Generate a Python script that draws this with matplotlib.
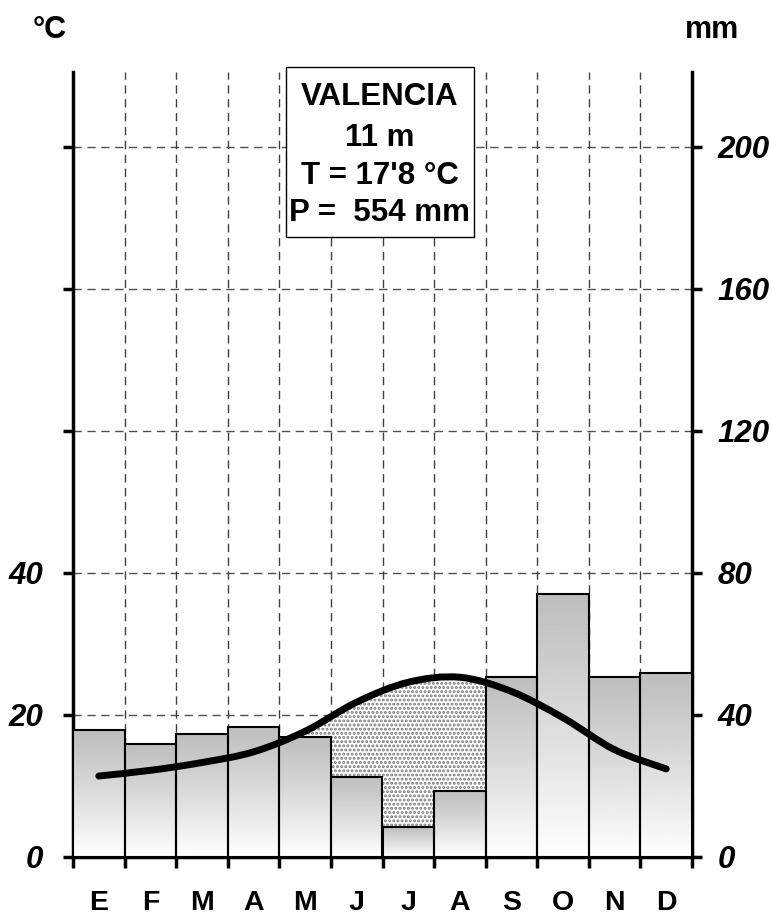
import numpy as np
import matplotlib
matplotlib.use('Agg')
import matplotlib.pyplot as plt
from matplotlib.path import Path
from matplotlib.patches import PathPatch, Rectangle

plt.rcParams['font.family'] = ['Liberation Sans', 'DejaVu Sans']
plt.rcParams['hatch.linewidth'] = 1.4

# Climograph data for Valencia
months = ['E', 'F', 'M', 'A', 'M', 'J', 'J', 'A', 'S', 'O', 'N', 'D']
precip_mm = [35.8, 31.7, 34.6, 36.7, 33.8, 22.6, 8.5, 18.7, 50.8, 74.0, 50.8, 51.7]
temp_c = [11.4, 12.2, 13.3, 14.8, 17.7, 21.8, 24.6, 25.3, 23.3, 19.6, 15.1, 12.4]

mm_ticks = [0, 40, 80, 120, 160, 200]
temp_labels = ['0', '20', '40', '', '', '']
info_lines = ['VALENCIA', '11 m', "T = 17'8 °C", 'P =  554 mm']

Y_TOP = 221


def smooth_path(xs, ys):
    # catmull-rom style bezier through the monthly points
    pts = np.column_stack([xs, ys])
    verts = [pts[0]]
    codes = [Path.MOVETO]
    n = len(pts)
    for i in range(n - 1):
        p0 = pts[max(i - 1, 0)]
        p1 = pts[i]
        p2 = pts[i + 1]
        p3 = pts[min(i + 2, n - 1)]
        c1 = p1 + (p2 - p0) / 6.0
        c2 = p2 - (p3 - p1) / 6.0
        verts += [c1, c2, p2]
        codes += [Path.CURVE4] * 3
    return verts, codes


fig = plt.figure(figsize=(7.72, 9.15), dpi=100)
ax = fig.add_axes([73 / 772, 58 / 915, 619 / 772, 785 / 915])

x_left = np.arange(len(months))
x_mid = x_left + 0.5
temp_mm = 2 * np.array(temp_c)

# grid
for v in mm_ticks[1:]:
    ax.axhline(v, color='#505050', lw=1, ls=(0, (6, 4)), zorder=1)
for v in range(1, len(months)):
    ax.axvline(v, color='#404040', lw=1, ls=(0, (6, 4)), zorder=1)

# stippled area under temperature curve (bars cover the rest)
verts, codes = smooth_path(x_mid, temp_mm)
line_path = Path(verts, codes)
fill_verts = verts + [(x_mid[-1], 0), (x_mid[0], 0), (x_mid[0], 0)]
fill_codes = codes + [Path.LINETO, Path.LINETO, Path.CLOSEPOLY]
ax.add_patch(PathPatch(Path(fill_verts, fill_codes), facecolor='white',
                       edgecolor='#7a7a7a', lw=0, hatch='....', zorder=2))

# precipitation bars with vertical gradient
grad = np.linspace(0, 1, 200) ** 1.1
grad = (0.745 + 0.255 * grad).reshape(-1, 1)
for i, p in enumerate(precip_mm):
    ax.imshow(grad, extent=(x_left[i], x_left[i] + 1, 0, p), cmap='gray',
              vmin=0, vmax=1, aspect='auto', interpolation='bilinear', zorder=3)
ax.bar(x_left, precip_mm, width=1, align='edge', facecolor='none',
       edgecolor='black', lw=1.5, zorder=4)

# temperature line
ax.add_patch(PathPatch(line_path, facecolor='none', edgecolor='black', lw=5,
                       capstyle='round', joinstyle='round', zorder=5))

ax.set_xlim(0, len(months))
ax.set_ylim(0, Y_TOP)

ax.spines['top'].set_visible(False)
for s in ['left', 'right', 'bottom']:
    ax.spines[s].set_linewidth(2.5)

ax.set_xticks(range(len(months) + 1))
ax.set_xticklabels([])
ax.set_xticks(x_mid, minor=True)
ax.set_xticklabels(months, minor=True, fontsize=20.5, fontweight='bold')
ax.tick_params(axis='x', which='major', direction='out', length=8, width=2.5)
ax.tick_params(axis='x', which='minor', length=0, pad=24)

ax.set_yticks(mm_ticks)
ax.set_yticklabels(temp_labels, fontsize=22.5, fontweight='bold', style='italic')
ax.tick_params(axis='y', direction='out', length=7.5, width=2.5, pad=14)

ax_r = ax.twinx()
ax_r.set_ylim(0, Y_TOP)
for s in ax_r.spines.values():
    s.set_visible(False)
ax_r.set_yticks(mm_ticks)
ax_r.set_yticklabels([str(v) for v in mm_ticks], fontsize=22.5,
                     fontweight='bold', style='italic')
ax_r.tick_params(axis='y', direction='out', length=7.5, width=2.5, pad=11)

# station info box
ax.add_patch(Rectangle((4.13, 174.6), 3.64, 47.9, facecolor='white',
                       edgecolor='black', lw=1, zorder=6, clip_on=False))
for txt, yb in zip(info_lines, [211.7, 200.3, 189.6, 179.0]):
    ax.text(5.95, yb, txt, ha='center', va='baseline', fontsize=22.5,
            fontweight='bold', zorder=7)

fig.text(33 / 772, 1 - 38 / 915, '°C', ha='left', va='baseline',
         fontsize=22, fontweight='bold')
fig.text(685 / 772, 1 - 38 / 915, 'mm', ha='left', va='baseline',
         fontsize=22, fontweight='bold')

fig.savefig('out.png', dpi=100)
